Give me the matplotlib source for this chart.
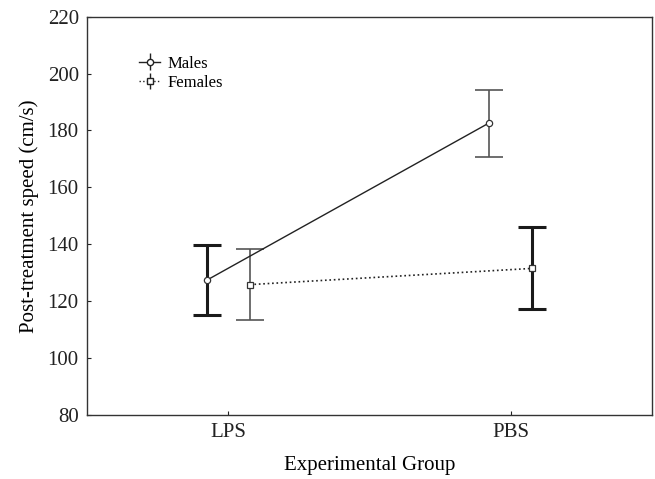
import numpy as np
import matplotlib.pyplot as plt

plt.rcParams['font.family'] = ['Liberation Serif', 'DejaVu Serif']

groups = ["LPS", "PBS"]
male_mean = [127.3, 182.6]
male_err = [12.3, 11.8]
female_mean = [125.8, 131.5]
female_err = [12.4, 14.4]
# which error bars are drawn heavy in the original
male_thick = [True, False]
female_thick = [False, True]

fig = plt.figure(figsize=[6.55, 4.79], dpi=100)
ax = fig.add_axes([0.133, 0.134, 0.862, 0.831])

x = np.arange(len(groups))
dx = 0.077
xm = x - dx
xf = x + dx

ax.plot(xm, male_mean, "-", color="#222222", lw=1.0, zorder=2)
ax.plot(xf, female_mean, ":", color="#222222", lw=1.2, zorder=2)

for xs, ms, es, th in [(xm, male_mean, male_err, male_thick), (xf, female_mean, female_err, female_thick)]:
    for k in range(len(xs)):
        if th[k]:
            lw, col = 2.2, "#1a1a1a"
        else:
            lw, col = 1.2, "#555555"
        ax.errorbar(xs[k], ms[k], yerr=es[k], fmt="none", ecolor=col, elinewidth=lw,
                    capsize=10, capthick=lw, zorder=1)

ax.plot(xm, male_mean, "o", ms=4.5, mfc="w", mec="#333333", mew=0.9, zorder=3)
ax.plot(xf, female_mean, "s", ms=4.5, mfc="w", mec="#333333", mew=0.9, zorder=3)

ax.set_xlim(-0.5, 1.5)
ax.set_ylim(80, 220)
ax.set_xticks(x)
ax.set_xticklabels(groups)
ax.set_yticks(np.arange(80, 221, 20))
ax.tick_params(direction="in", length=3, width=0.8, labelsize=15, colors="#222222", pad=6)
for s in ax.spines.values():
    s.set_color("#333333")
    s.set_linewidth(1.0)
ax.set_xlabel("Experimental Group", fontsize=15, labelpad=10)
ax.set_ylabel("Post-treatment speed (cm/s)", fontsize=15, labelpad=6)

h1 = ax.errorbar([], [], yerr=[], fmt="o-", color="#222222", mfc="w", ms=4.5, capsize=7, lw=1.0)
h2 = ax.errorbar([], [], yerr=[], fmt="s:", color="#222222", mfc="w", ms=4.5, capsize=7, lw=1.0)
ax.legend([h1, h2], ["Males", "Females"], loc="upper left", bbox_to_anchor=(0.065, 0.94),
          frameon=False, fontsize=12, handlelength=1.3, handletextpad=0.4, labelspacing=0.2)

fig.savefig("out.png", dpi=100)
